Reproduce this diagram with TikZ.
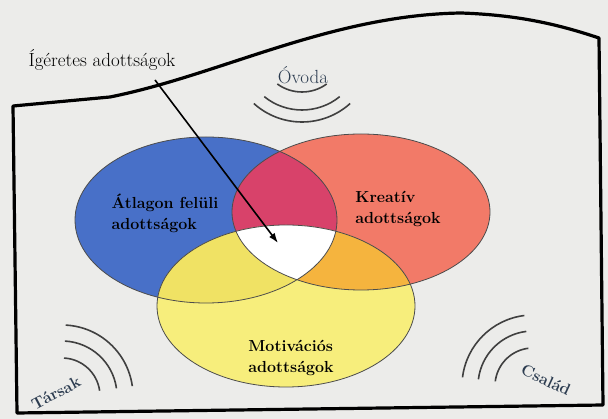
\documentclass[tikz,border=0pt]{standalone}
\usepackage{xcolor}
\usepackage{tikz}
\usetikzlibrary{arrows.meta}

\definecolor{paper}{RGB}{236,236,234}
\definecolor{vennblue}{RGB}{72,112,200}
\definecolor{vennred}{RGB}{242,122,104}
\definecolor{vennyellow}{RGB}{247,238,124}
\definecolor{bluered}{RGB}{216,66,106}
\definecolor{blueyellow}{RGB}{240,226,100}
\definecolor{redyellow}{RGB}{245,180,62}
\definecolor{inkblue}{RGB}{44,60,80}

\begin{document}
\begin{tikzpicture}[x=1pt,y=1pt,
  frame/.style={line width=3.2pt, line join=round},
  wave/.style={line width=1.6pt, black!75},
  outline/.style={line width=0.8pt, black!70},
  venntext/.style={align=left, font=\fontsize{16}{21}\selectfont\bfseries},
  place/.style={font=\fontsize{19}{22}\selectfont, inkblue},
  corner/.style={font=\fontsize{16}{18}\selectfont\bfseries, inkblue}]

%Background
\fill[paper] (0,0) rectangle (608,-419);
\useasboundingbox (0,0) rectangle (608,-419);

%Frame
\draw[frame] (13,-106) -- (110,-97) .. controls (220,-75) and (330,-15) .. (461,-13)
  .. controls (520,-15) and (560,-25) .. (599,-38) -- (603,-405) -- (17,-413) -- cycle;

%Circles
\fill[vennblue] (206,-220) ellipse (131 and 83);
\fill[vennred] (361,-212) ellipse (129 and 78);
\fill[vennyellow] (286,-306) ellipse (129 and 81);

%Overlaps
\begin{scope}
\clip (206,-220) ellipse (131 and 83);
\fill[bluered] (361,-212) ellipse (129 and 78);
\fill[blueyellow] (286,-306) ellipse (129 and 81);
\end{scope}
\begin{scope}
\clip (361,-212) ellipse (129 and 78);
\fill[redyellow] (286,-306) ellipse (129 and 81);
\end{scope}
\begin{scope}
\clip (206,-220) ellipse (131 and 83);
\clip (361,-212) ellipse (129 and 78);
\fill[white] (286,-306) ellipse (129 and 81);
\end{scope}

\draw[outline] (206,-220) ellipse (131 and 83);
\draw[outline] (361,-212) ellipse (129 and 78);
\draw[outline] (286,-306) ellipse (129 and 81);

%Labels in circles
\node[venntext] (atlagon) at (165,-213) {Átlagon felüli\\adottságok};
\node[venntext] (kreativ) at (398,-209) {Kreatív\\adottságok};
\node[venntext] (motivacios) at (291,-358) {Motivációs\\adottságok};

%Promise label and arrow
\node[font=\fontsize{19}{22}\selectfont, black] (igeretes) at (102,-60) {Ígéretes adottságok};
\coordinate (tail) at (155,-80);
\coordinate (core) at (278,-243);
\draw[line width=1.6pt, -{Latex[length=10pt,width=7pt]}] (tail) -- (core);

%Kindergarten
\node[place] (ovoda) at (303,-75) {Óvoda};
\draw[wave] (302,-50) ++(234:42) arc (234:306:42);
\draw[wave] (302,-50) ++(231:60) arc (231:309:60);
\draw[wave] (302,-50) ++(228:72) arc (228:312:72);

%Peers
\node[corner, rotate=28] (tarsak) at (56,-393) {Társak};
\draw[wave] (62,-396) ++(87:38) arc (87:8:38);
\draw[wave] (62,-396) ++(87:55) arc (87:8:55);
\draw[wave] (62,-396) ++(87:71) arc (87:8:71);

%Family
\node[corner, rotate=-25] (csalad) at (546,-380) {Család};
\draw[wave] (533,-386) ++(97:38) arc (97:173:38);
\draw[wave] (533,-386) ++(97:55) arc (97:173:55);
\draw[wave] (533,-386) ++(97:71) arc (97:173:71);

\end{tikzpicture}
\end{document}
